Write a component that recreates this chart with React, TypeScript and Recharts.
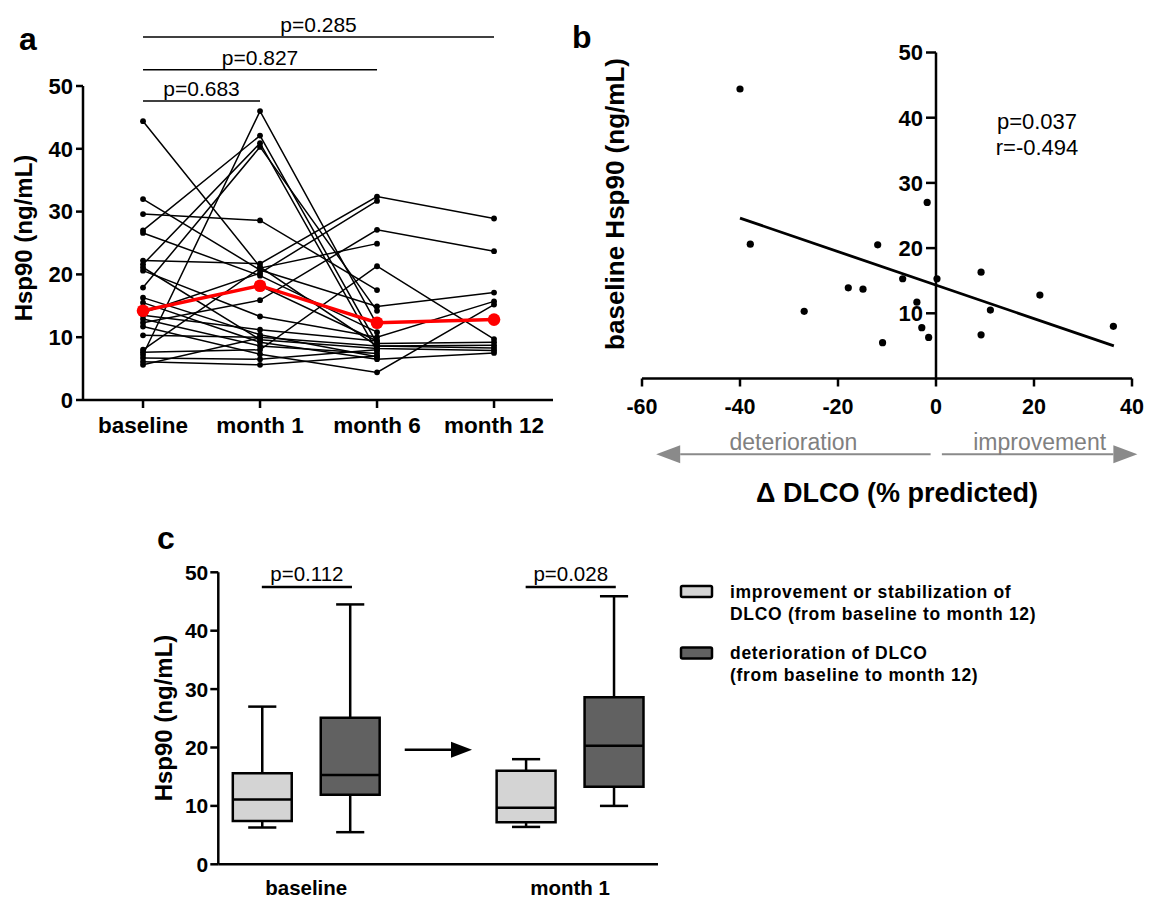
import React from 'react'
import {
  LineChart,
  Line,
  XAxis,
  YAxis,
  ReferenceLine,
  ReferenceArea,
  ScatterChart,
  Scatter,
  ComposedChart,
} from 'recharts'

const FONT = '"Liberation Sans", Arial, Helvetica, sans-serif'

// ---- panel a: Hsp90 per patient over time
const timepoints = ['baseline', 'month 1', 'month 6', 'month 12']
const patients: (number | null)[][] = [
  [44.4, 21.2, 8.6, 8.3],
  [32.0, 20.7, 14.9, 17.1],
  [29.6, 28.6, 17.5, null],
  [27.0, 42.1, 9.0, 9.2],
  [26.6, 19.8, 10.8, null],
  [22.2, 21.7, 32.4, 28.9],
  [21.6, 40.9, 7.8, null],
  [21.1, 9.6, 8.2, 7.9],
  [20.6, 13.3, 10.0, 15.7],
  [17.9, 40.3, 14.2, null],
  [16.3, 10.4, 6.9, null],
  [15.5, 9.2, 6.5, 7.5],
  [14.2, 18.2, 9.4, null],
  [13.9, 20.2, 31.7, null],
  [13.5, 11.2, 9.4, null],
  [12.9, 8.6, 7.4, null],
  [12.3, 15.9, 27.1, 23.7],
  [11.7, 7.3, 4.4, 15.2],
  [10.3, 10.0, 8.6, 8.7],
  [8.0, 21.0, 24.9, null],
  [7.6, 8.0, 21.3, 9.7],
  [7.2, 46.0, 12.0, null],
  [6.7, 6.5, 8.0, null],
  [6.1, 5.6, 7.0, null],
  [5.6, 9.9, null, null],
]
const medianHsp90 = [14.2, 18.2, 12.3, 12.8]
const pairLabels = ['p=0.683', 'p=0.827', 'p=0.285']
const pairTo = [1, 2, 3]
const pairHeight = [47.6, 52.6, 57.8]

// ---- panel b: baseline Hsp90 vs change in DLCO
const deltaDlco = [-40.0, -37.9, -26.9, -17.9, -14.9, -11.9, -10.9, -6.8, -3.9, -2.9, -1.8, -1.5, 0.2, 9.2, 9.2, 11.1, 21.2, 36.2]
const baselineHsp90 = [44.4, 20.6, 10.3, 13.9, 13.7, 20.5, 5.5, 15.3, 11.7, 7.8, 27.0, 6.3, 15.3, 16.3, 6.7, 10.5, 12.8, 8.0]
const fitX = [-40, 36.3]
const fitY = [24.6, 5.0]
const bYTicks = [10, 20, 30, 40, 50]
const bXTicks = [-60, -40, -20, 0, 20, 40]

// ---- panel c: box plots by DLCO course
const groups = ['baseline', 'month 1']
const groupPos = [20, 80]
const boxPos = [10, 30, 70, 90]
const boxMin = [6.3, 5.5, 6.4, 10.0]
const boxQ1 = [7.4, 11.9, 7.2, 13.3]
const boxMed = [11.1, 15.3, 9.7, 20.3]
const boxQ3 = [15.6, 25.1, 16.0, 28.6]
const boxMax = [27.0, 44.5, 18.0, 45.9]
const boxGroup = [0, 1, 0, 1]
const legendNames = [
  ['improvement or stabilization of', 'DLCO (from baseline to month 12)'],
  ['deterioration of DLCO', '(from baseline to month 12)'],
]
const groupFill = ['#d4d4d4', '#616161']
const cPLabels = ['p=0.112', 'p=0.028']

const axisStroke = { stroke: '#000', strokeWidth: 2.5 }

function arrowShape(color: string, head: number, half: number, width: number) {
  return (props: any) => {
    const { x1, y1, x2, y2 } = props
    const dx = x2 - x1
    const dy = y2 - y1
    const len = Math.hypot(dx, dy) || 1
    const ux = dx / len
    const uy = dy / len
    const bx = x2 - ux * head
    const by = y2 - uy * head
    return (
      <g>
        <line x1={x1} y1={y1} x2={bx} y2={by} stroke={color} strokeWidth={width} />
        <polygon
          points={`${x2},${y2} ${bx - uy * half},${by + ux * half} ${bx + uy * half},${by - ux * half}`}
          fill={color}
        />
      </g>
    )
  }
}

function PanelA() {
  const rows = timepoints.map((_, i) => {
    const row: Record<string, number | null> = { x: i, median: medianHsp90[i] }
    patients.forEach((p, j) => {
      row['p' + j] = p[i]
    })
    return row
  })
  return (
    <LineChart width={580} height={450} data={rows} margin={{ top: 86, right: 27, bottom: 10, left: 23 }}>
      <XAxis
        type="number"
        dataKey="x"
        domain={[-0.513, 3.504]}
        ticks={[0, 1, 2, 3]}
        interval={0}
        tickFormatter={(v: number) => timepoints[v]}
        height={40}
        tickSize={8}
        tickMargin={9}
        axisLine={axisStroke}
        tickLine={axisStroke}
        tick={{ fontSize: 22.5, fontWeight: 700, fill: '#000', fontFamily: FONT }}
      />
      <YAxis
        type="number"
        domain={[0, 50]}
        ticks={[0, 10, 20, 30, 40, 50]}
        width={60}
        tickSize={7}
        tickMargin={3}
        axisLine={axisStroke}
        tickLine={axisStroke}
        tick={{ fontSize: 22, fontWeight: 700, fill: '#000', fontFamily: FONT }}
      />
      {patients.map((_, j) => (
        <Line
          key={j}
          dataKey={'p' + j}
          stroke="#000"
          strokeWidth={1.5}
          dot={{ r: 2.9, fill: '#000', stroke: 'none' }}
          connectNulls={false}
          isAnimationActive={false}
        />
      ))}
      <Line
        dataKey="median"
        stroke="#ff0000"
        strokeWidth={3.5}
        dot={{ r: 6.3, fill: '#ff0000', stroke: 'none' }}
        isAnimationActive={false}
      />
      {pairLabels.map((p, i) => (
        <ReferenceLine
          key={p}
          segment={[
            { x: 0, y: pairHeight[i] },
            { x: pairTo[i], y: pairHeight[i] },
          ]}
          ifOverflow="visible"
          stroke="#000"
          strokeWidth={1.5}
          label={{ value: p, position: 'top', offset: 5, fill: '#000', fontSize: 21, fontFamily: FONT }}
        />
      ))}
    </LineChart>
  )
}

function PanelB() {
  const points = deltaDlco.map((x, i) => ({ x, y: baselineHsp90[i] }))
  const fit = fitX.map((x, i) => ({ x, y: fitY[i] }))
  const tickRows = bYTicks.map((y) => ({ x: 0, y }))
  const greyArrow = arrowShape('#8a8a8a', 24, 9, 2)
  return (
    <ScatterChart width={597} height={520} margin={{ top: 52.5, right: 25, bottom: 101.5, left: 82 }}>
      <XAxis
        type="number"
        dataKey="x"
        domain={[-60, 40]}
        ticks={bXTicks}
        interval={0}
        height={40}
        tickSize={8}
        tickMargin={12}
        axisLine={axisStroke}
        tickLine={axisStroke}
        tick={{ fontSize: 21.5, fontWeight: 700, fill: '#000', fontFamily: FONT }}
      />
      <YAxis type="number" dataKey="y" domain={[0, 50]} hide />
      <ReferenceLine segment={[{ x: 0, y: 0 }, { x: 0, y: 50 }]} stroke="#000" strokeWidth={2.5} />
      <Scatter
        data={tickRows}
        isAnimationActive={false}
        shape={(props: any) => (
          <g>
            <line x1={props.cx - 10} y1={props.cy} x2={props.cx} y2={props.cy} stroke="#000" strokeWidth={2.5} />
            <text
              x={props.cx - 13}
              y={props.cy}
              dy="0.36em"
              textAnchor="end"
              fontSize={22}
              fontWeight={700}
              fontFamily={FONT}
              fill="#000"
            >
              {props.payload.y}
            </text>
          </g>
        )}
      />
      <Scatter
        data={points}
        isAnimationActive={false}
        shape={(props: any) => <circle cx={props.cx} cy={props.cy} r={3.6} fill="#000" />}
      />
      <Scatter
        data={fit}
        isAnimationActive={false}
        line={{ stroke: '#000', strokeWidth: 2.8 }}
        shape={() => <g />}
      />
      <ReferenceLine
        segment={[{ x: -1.1, y: -11.6 }, { x: -57.1, y: -11.6 }]}
        ifOverflow="visible"
        shape={greyArrow}
        label={{ value: 'deterioration', position: 'top', offset: 4, fill: '#808080', fontSize: 23, fontFamily: FONT }}
      />
      <ReferenceLine
        segment={[{ x: 1.2, y: -11.6 }, { x: 41.1, y: -11.6 }]}
        ifOverflow="visible"
        shape={greyArrow}
        label={{ value: 'improvement', position: 'top', offset: 4, fill: '#808080', fontSize: 23, fontFamily: FONT }}
      />
    </ScatterChart>
  )
}

function PanelC() {
  const medRows = boxPos.map((x, i) => ({ x, y: boxMed[i] }))
  const boxW = 6.7
  const capW = 3.2
  const line = { stroke: '#000', strokeWidth: 2.5 }
  return (
    <ComposedChart width={580} height={358} margin={{ top: 32.3, right: 22, bottom: 3.7, left: 58.3 }}>
      <XAxis
        type="number"
        dataKey="x"
        domain={[0, 100]}
        ticks={groupPos}
        interval={0}
        tickFormatter={(v: number) => groups[groupPos.indexOf(v)]}
        height={30}
        tickSize={6}
        tickMargin={10}
        tickLine={false}
        axisLine={axisStroke}
        tick={{ fontSize: 20.5, fontWeight: 700, fill: '#000', fontFamily: FONT }}
      />
      <YAxis
        type="number"
        domain={[0, 50]}
        ticks={[0, 10, 20, 30, 40, 50]}
        width={60}
        tickSize={8}
        tickMargin={2}
        axisLine={axisStroke}
        tickLine={axisStroke}
        tick={{ fontSize: 21, fontWeight: 700, fill: '#000', fontFamily: FONT }}
      />
      <Scatter data={medRows} dataKey="y" isAnimationActive={false} shape={() => <g />} />
      {boxPos.map((x, i) => (
        <ReferenceLine key={'wl' + i} segment={[{ x, y: boxMin[i] }, { x, y: boxQ1[i] }]} {...line} />
      ))}
      {boxPos.map((x, i) => (
        <ReferenceLine key={'wu' + i} segment={[{ x, y: boxQ3[i] }, { x, y: boxMax[i] }]} {...line} />
      ))}
      {boxPos.map((x, i) => (
        <ReferenceLine
          key={'cl' + i}
          segment={[{ x: x - capW, y: boxMin[i] }, { x: x + capW, y: boxMin[i] }]}
          {...line}
        />
      ))}
      {boxPos.map((x, i) => (
        <ReferenceLine
          key={'cu' + i}
          segment={[{ x: x - capW, y: boxMax[i] }, { x: x + capW, y: boxMax[i] }]}
          {...line}
        />
      ))}
      {boxPos.map((x, i) => (
        <ReferenceArea
          key={'b' + i}
          x1={x - boxW}
          x2={x + boxW}
          y1={boxQ1[i]}
          y2={boxQ3[i]}
          fill={groupFill[boxGroup[i]]}
          fillOpacity={1}
          stroke="#000"
          strokeWidth={2.5}
        />
      ))}
      {boxPos.map((x, i) => (
        <ReferenceLine
          key={'m' + i}
          segment={[{ x: x - boxW, y: boxMed[i] }, { x: x + boxW, y: boxMed[i] }]}
          {...line}
        />
      ))}
      {cPLabels.map((p, i) => (
        <ReferenceLine
          key={p}
          segment={[{ x: boxPos[i * 2] - 0.1, y: 47.5 }, { x: boxPos[i * 2 + 1] + 0.4, y: 47.5 }]}
          ifOverflow="visible"
          stroke="#000"
          strokeWidth={2.5}
          label={{ value: p, position: 'top', offset: 6, fill: '#000', fontSize: 20.5, fontFamily: FONT }}
        />
      ))}
      <ReferenceLine
        segment={[{ x: 42.4, y: 19.6 }, { x: 57.7, y: 19.6 }]}
        shape={arrowShape('#000', 21, 8, 2.5)}
      />
    </ComposedChart>
  )
}

export default function App() {
  const bold = { fontFamily: FONT, fontWeight: 700, fill: '#000' }
  return (
    <div style={{ position: 'absolute', left: 0, top: 0, width: 1157, height: 898, background: '#fff' }}>
      <div style={{ position: 'absolute', left: 0, top: 0 }}>
        <PanelA />
      </div>
      <div style={{ position: 'absolute', left: 560, top: 0 }}>
        <PanelB />
      </div>
      <div style={{ position: 'absolute', left: 100, top: 540 }}>
        <PanelC />
      </div>
      <svg
        width={1157}
        height={898}
        style={{ position: 'absolute', left: 0, top: 0, pointerEvents: 'none' }}
      >
        <text x={19} y={50} fontSize={32} {...bold}>a</text>
        <text x={572} y={48} fontSize={32} {...bold}>b</text>
        <text x={157} y={549} fontSize={32} {...bold}>c</text>

        <text x={31.5} y={238} fontSize={24} textAnchor="middle" transform="rotate(-90 31.5 238)" {...bold}>
          Hsp90 (ng/mL)
        </text>
        <text x={624} y={204} fontSize={26} textAnchor="middle" transform="rotate(-90 624 204)" {...bold}>
          baseline Hsp90 (ng/mL)
        </text>
        <text x={171.5} y={718} fontSize={24} textAnchor="middle" transform="rotate(-90 171.5 718)" {...bold}>
          Hsp90 (ng/mL)
        </text>

        <text x={897} y={502} fontSize={27} textAnchor="middle" {...bold}>
          Δ DLCO (% predicted)
        </text>
        <text x={1037} y={128.5} fontSize={22} textAnchor="middle" fontFamily={FONT} fill="#000">
          p=0.037
        </text>
        <text x={1037} y={154.5} fontSize={22} textAnchor="middle" fontFamily={FONT} fill="#000">
          r=-0.494
        </text>

        {legendNames.map((lines, g) => (
          <g key={g}>
            <rect
              x={681}
              y={586 + g * 61.5}
              width={31}
              height={11}
              rx={1.5}
              fill={groupFill[g]}
              stroke="#000"
              strokeWidth={2.5}
            />
            {lines.map((t, k) => (
              <text key={k} x={730} y={597.5 + g * 61 + k * 22.5} fontSize={17.5} letterSpacing={0.7} {...bold}>
                {t}
              </text>
            ))}
          </g>
        ))}
      </svg>
    </div>
  )
}
